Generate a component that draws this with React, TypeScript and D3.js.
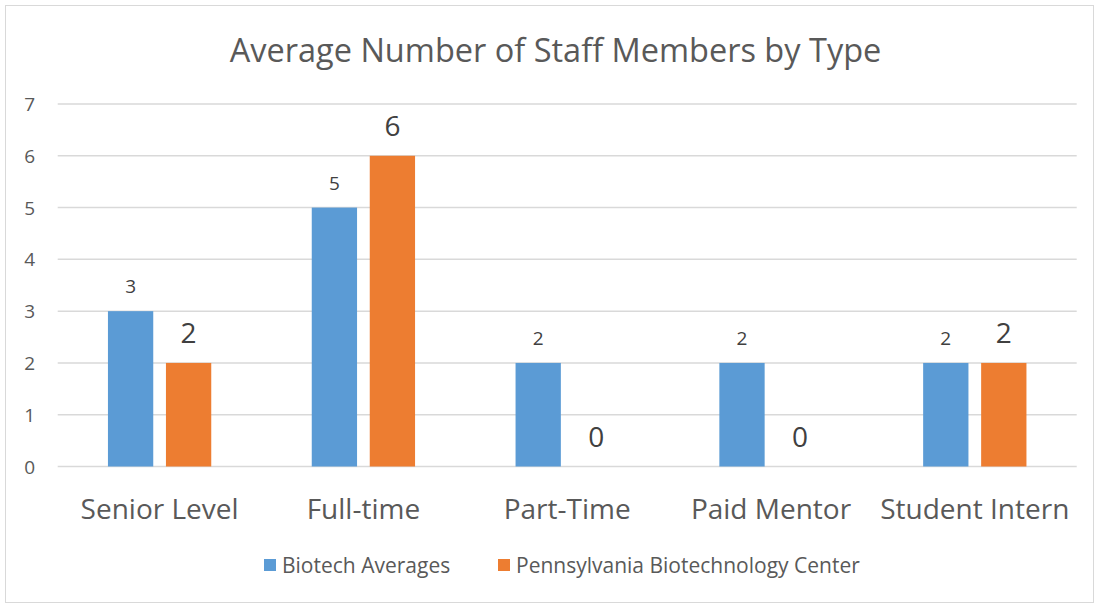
import React from "react";
import * as d3 from "d3";

const categories = ["Senior Level", "Full-time", "Part-Time", "Paid Mentor", "Student Intern"];
const biotechAverages = [3, 5, 2, 2, 2];
const pennCenter = [2, 6, 0, 0, 2];
const seriesNames = ["Biotech Averages", "Pennsylvania Biotechnology Center"];
const yTicks = [0, 1, 2, 3, 4, 5, 6, 7];

const W = 1098;
const H = 605;
const FONT = "'Open Sans', sans-serif";
const TEXT = "#595959";
const BLUE = "#5B9BD5";
const ORANGE = "#ED7D31";

export default function App() {
  const x = d3.scaleBand<string>().domain(categories).range([57.7, 1076.7]);
  const y = d3.scaleLinear().domain([0, 7]).range([466.5, 104]);
  const barW = 45.3;
  const gap = 12.7;
  return (
    <svg width={W} height={H} style={{ position: "absolute", left: 0, top: 0 }}>
      <rect x={0} y={0} width={W} height={H} fill="#fff" />
      <rect x={5.5} y={5.5} width={1088} height={597} fill="none" stroke="#D9D9D9" strokeWidth={1} />
      <text x={555.5} y={62} textAnchor="middle" fontFamily={FONT} fontSize={32.5} fill={TEXT}>
        Average Number of Staff Members by Type
      </text>
      {yTicks.map((t) => (
        <g key={t}>
          <line x1={57.7} x2={1076.7} y1={y(t)} y2={y(t)} stroke="#D9D9D9" strokeWidth={1.5} />
          <text x={35} y={y(t) + 7} textAnchor="end" fontFamily={FONT} fontSize={19} fill={TEXT}>
            {t}
          </text>
        </g>
      ))}
      {categories.map((c, i) => {
        const cx = (x(c) as number) + x.bandwidth() / 2;
        const bx = cx - gap / 2 - barW;
        const ox = cx + gap / 2;
        const b = biotechAverages[i];
        const o = pennCenter[i];
        return (
          <g key={c}>
            <rect x={bx} y={y(b)} width={barW} height={y(0) - y(b)} fill={BLUE} />
            <rect x={ox} y={y(o)} width={barW} height={y(0) - y(o)} fill={ORANGE} />
            <text x={bx + barW / 2} y={y(b) - 18} textAnchor="middle" fontFamily={FONT} fontSize={19} fill="#404040">
              {b}
            </text>
            <text x={ox + barW / 2} y={y(o) - 20} textAnchor="middle" fontFamily={FONT} fontSize={28} fill="#404040">
              {o}
            </text>
            <text x={cx} y={519} textAnchor="middle" fontFamily={FONT} fontSize={28} fill={TEXT}>
              {c}
            </text>
          </g>
        );
      })}
      <rect x={264} y={559} width={12} height={12} fill={BLUE} />
      <text x={282} y={573} fontFamily={FONT} fontSize={21} fill={TEXT}>
        {seriesNames[0]}
      </text>
      <rect x={498} y={559} width={12} height={12} fill={ORANGE} />
      <text x={516} y={573} fontFamily={FONT} fontSize={21} fill={TEXT}>
        {seriesNames[1]}
      </text>
    </svg>
  );
}
